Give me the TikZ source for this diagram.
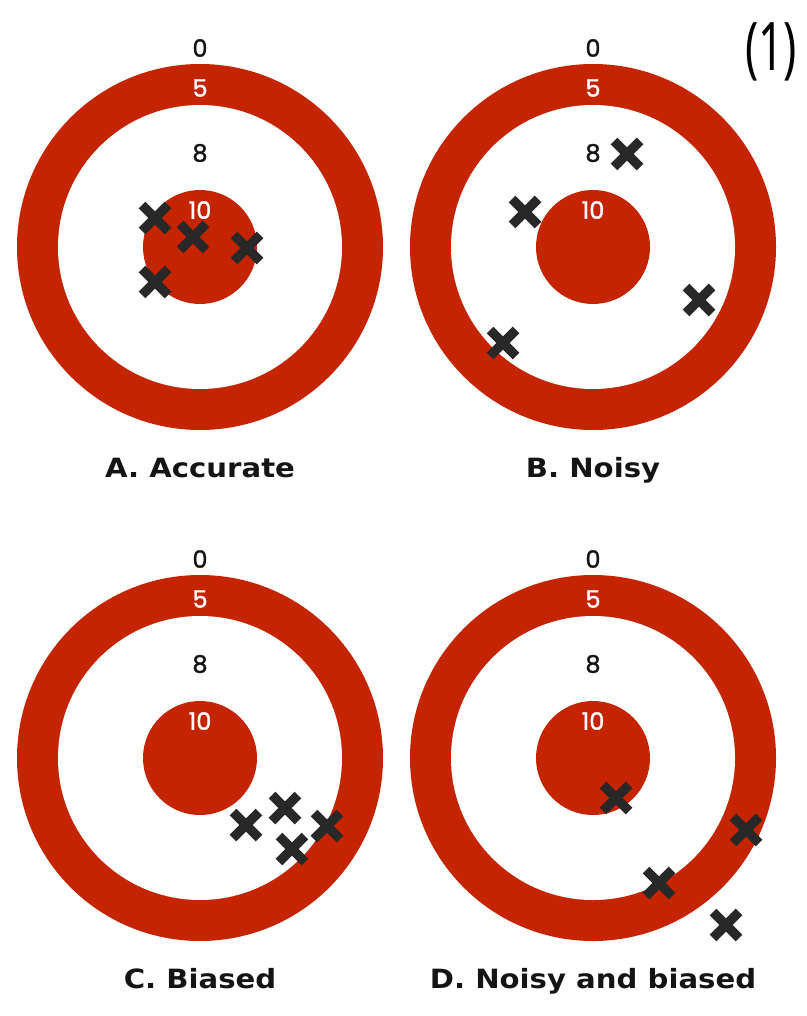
\documentclass[tikz,border=0pt]{standalone}
\usepackage{fontspec}
\setmainfont{DejaVu Sans}
\newfontfamily\scorefont[FakeBold=1.4]{Poppins}
\newfontfamily\capfont[FakeStretch=1.1]{DejaVu Sans}
\newfontfamily\tagfont[FakeStretch=0.66]{Noto Sans}
\usetikzlibrary{shapes.misc}
\definecolor{TargetRed}{HTML}{C42400}
\definecolor{ShotInk}{HTML}{282828}
\definecolor{LabelInk}{HTML}{141414}

\begin{document}
\begin{tikzpicture}[x=1pt,y=-1pt,
  score/.style={inner sep=0pt,text=LabelInk,font=\scorefont\fontsize{24}{24}\selectfont},
  whitescore/.style={score,text=white},
  caption/.style={inner sep=0pt,anchor=base,text=LabelInk,font=\capfont\bfseries\fontsize{26.5}{26.5}\selectfont},
  shot/.style={cross out,draw=ShotInk,line width=9.5pt,minimum size=26pt,inner sep=0pt,outer sep=0pt}
]
\useasboundingbox (0,0) rectangle (806,1016);
% four targets
\foreach \name/\cx/\cy/\txt in {A/200/247/{A. Accurate},B/593/247/{B. Noisy},C/200/758/{C. Biased},D/593/758/{D. Noisy and biased}}{
  \coordinate (\name) at (\cx,\cy);
  \fill[TargetRed] (\name) circle (183);
  \fill[white] (\name) circle (142);
  \fill[TargetRed] (\name) circle (57);
  \node[score] (\name-zero) at (\cx,\cy-199) {0};
  \node[whitescore] (\name-five) at (\cx,\cy-159) {5};
  \node[score] (\name-eight) at (\cx,\cy-94) {8};
  \node[whitescore] (\name-ten) at (\cx,\cy-37) {10};
  \node[caption] (\name-cap) at (\cx,\cy+230) {\txt};
}
% shots
\node[shot] (A1) at (155,218) {};
\node[shot] (A2) at (193,237) {};
\node[shot] (A3) at (247,248) {};
\node[shot] (A4) at (155,282) {};
\node[shot] (B1) at (627,154) {};
\node[shot] (B2) at (525,212) {};
\node[shot] (B3) at (699,300) {};
\node[shot] (B4) at (503,343) {};
\node[shot] (C1) at (246,825) {};
\node[shot] (C2) at (285,808) {};
\node[shot] (C3) at (327,826) {};
\node[shot] (C4) at (292,849) {};
\node[shot] (D1) at (616,798) {};
\node[shot] (D2) at (746,830) {};
\node[shot] (D3) at (659,883) {};
\node[shot] (D4) at (726,925) {};
\node[inner sep=0pt,text=black,font=\tagfont\fontsize{67}{67}\selectfont] (tag) at (771,52) {(1)};
\end{tikzpicture}
\end{document}
